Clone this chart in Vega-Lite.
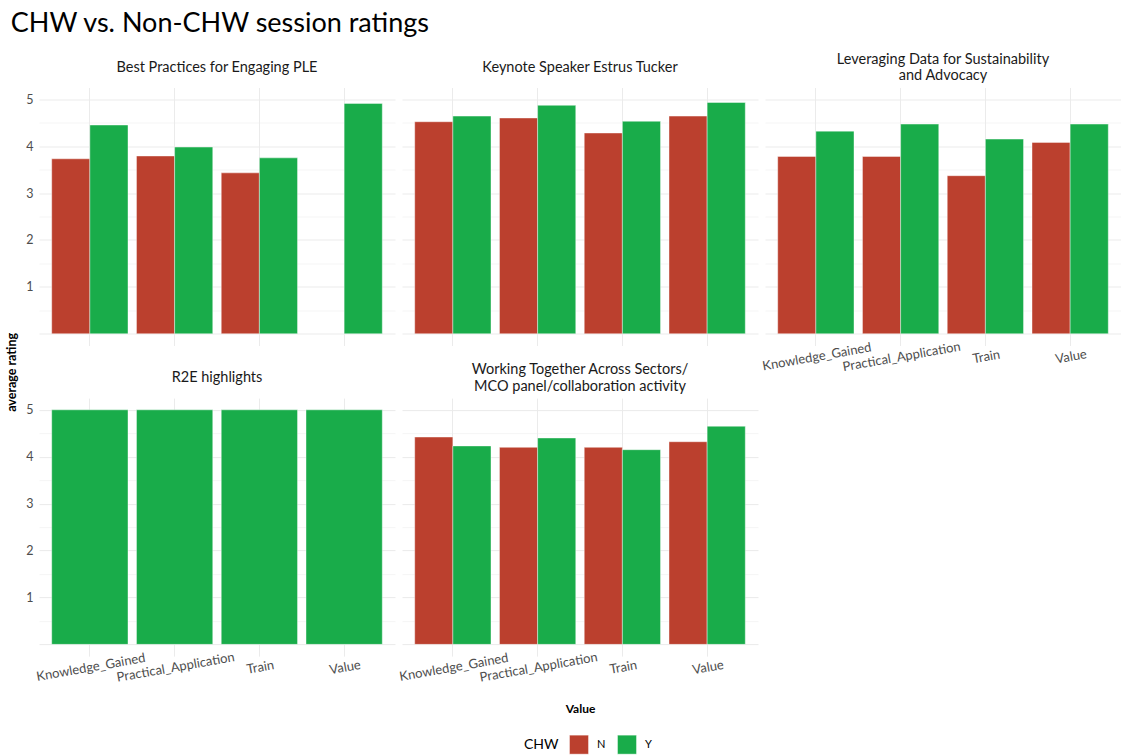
{
  "$schema": "https://vega.github.io/schema/vega-lite/v6.json",
  "title": {"text": "CHW vs. Non-CHW session ratings", "anchor": "start", "frame": "bounds", "fontSize": 27, "font": "Lato", "fontWeight": "normal", "color": "#000000", "offset": 14, "dx": 5, "dy": 0},
  "padding": {"left": 5, "top": 9.5, "right": 0, "bottom": 0},
  "bounds": "flush",
  "columns": 3,
  "spacing": {"row": 52.6, "column": 7},
  "resolve": {"scale": {"xOffset": "independent"}},
  "config": {
    "view": {"stroke": null},
    "font": "Lato",
    "title": {"fontSize": 14.5, "fontWeight": "normal", "color": "#1a1a1a", "offset": 4, "font": "Lato", "frame": "group"},
    "bar": {"stroke": "#ffffff", "strokeWidth": 0.6, "strokeOpacity": 0.7},
    "axis": {"ticks": false, "domain": false, "gridColor": "#ebebeb", "labelColor": "#4d4d4d", "labelFontSize": 12.5, "titleFontWeight": "bold", "titleFontSize": 12, "titleColor": "#000000"},
    "axisX": {"labelAngle": -10, "labelAlign": "center", "labelBaseline": "top", "labelPadding": 5, "bandPosition": 0.5, "grid": true, "gridWidth": 1, "labelFontSize": 13},
    "axisY": {"labelPadding": 6}
  },
  "data": {"values": [
    {"session": "Best Practices", "Value": "Knowledge_Gained", "CHW": "N", "rating": 3.73},
    {"session": "Best Practices", "Value": "Knowledge_Gained", "CHW": "Y", "rating": 4.45},
    {"session": "Best Practices", "Value": "Practical_Application", "CHW": "N", "rating": 3.79},
    {"session": "Best Practices", "Value": "Practical_Application", "CHW": "Y", "rating": 3.98},
    {"session": "Best Practices", "Value": "Train", "CHW": "N", "rating": 3.43},
    {"session": "Best Practices", "Value": "Train", "CHW": "Y", "rating": 3.75},
    {"session": "Best Practices", "Value": "Value", "CHW": "Y", "rating": 4.91},
    {"session": "Keynote", "Value": "Knowledge_Gained", "CHW": "N", "rating": 4.52},
    {"session": "Keynote", "Value": "Knowledge_Gained", "CHW": "Y", "rating": 4.64},
    {"session": "Keynote", "Value": "Practical_Application", "CHW": "N", "rating": 4.6},
    {"session": "Keynote", "Value": "Practical_Application", "CHW": "Y", "rating": 4.87},
    {"session": "Keynote", "Value": "Train", "CHW": "N", "rating": 4.28},
    {"session": "Keynote", "Value": "Train", "CHW": "Y", "rating": 4.53},
    {"session": "Keynote", "Value": "Value", "CHW": "N", "rating": 4.64},
    {"session": "Keynote", "Value": "Value", "CHW": "Y", "rating": 4.93},
    {"session": "Leveraging", "Value": "Knowledge_Gained", "CHW": "N", "rating": 3.78},
    {"session": "Leveraging", "Value": "Knowledge_Gained", "CHW": "Y", "rating": 4.32},
    {"session": "Leveraging", "Value": "Practical_Application", "CHW": "N", "rating": 3.78},
    {"session": "Leveraging", "Value": "Practical_Application", "CHW": "Y", "rating": 4.47},
    {"session": "Leveraging", "Value": "Train", "CHW": "N", "rating": 3.37},
    {"session": "Leveraging", "Value": "Train", "CHW": "Y", "rating": 4.15},
    {"session": "Leveraging", "Value": "Value", "CHW": "N", "rating": 4.08},
    {"session": "Leveraging", "Value": "Value", "CHW": "Y", "rating": 4.47},
    {"session": "R2E", "Value": "Knowledge_Gained", "CHW": "Y", "rating": 5},
    {"session": "R2E", "Value": "Practical_Application", "CHW": "Y", "rating": 5},
    {"session": "R2E", "Value": "Train", "CHW": "Y", "rating": 5},
    {"session": "R2E", "Value": "Value", "CHW": "Y", "rating": 5},
    {"session": "Working Together", "Value": "Knowledge_Gained", "CHW": "N", "rating": 4.42},
    {"session": "Working Together", "Value": "Knowledge_Gained", "CHW": "Y", "rating": 4.23},
    {"session": "Working Together", "Value": "Practical_Application", "CHW": "N", "rating": 4.2},
    {"session": "Working Together", "Value": "Practical_Application", "CHW": "Y", "rating": 4.4},
    {"session": "Working Together", "Value": "Train", "CHW": "N", "rating": 4.2},
    {"session": "Working Together", "Value": "Train", "CHW": "Y", "rating": 4.15},
    {"session": "Working Together", "Value": "Value", "CHW": "N", "rating": 4.32},
    {"session": "Working Together", "Value": "Value", "CHW": "Y", "rating": 4.65}
  ]},
  "concat": [
    {
      "title": {"text": "Best Practices for Engaging PLE", "dy": -8.5},
      "transform": [{"filter": "datum.session === 'Best Practices'"}],
      "width": 356, "height": 258,
      "mark": "bar",
      "encoding": {
        "x": {"field": "Value", "type": "nominal", "scale": {"paddingInner": 0.1, "paddingOuter": 0.15}, "axis": {"labels": false, "title": null}},
        "xOffset": {"field": "CHW", "type": "nominal", "scale": {"paddingInner": 0, "paddingOuter": 0}},
        "y": {"field": "rating", "type": "quantitative", "scale": {"domain": [-0.25, 5.25], "nice": false, "zero": false},
          "axis": {"title": "average rating", "titleY": 284.4, "titleFontSize": 12.5, "titlePadding": 7, "values": [0, 0.5, 1, 1.5, 2, 2.5, 3, 3.5, 4, 4.5, 5], "labelExpr": "datum.value >= 1 && datum.value % 1 === 0 ? '' + datum.value : ''", "gridWidth": {"condition": {"test": "datum.value % 1 !== 0", "value": 0.5}, "value": 1}}},
        "color": {"field": "CHW", "type": "nominal", "title": "CHW", "scale": {"domain": ["N", "Y"], "range": ["#bb402e", "#19ac4a"]},
          "legend": {"orient": "none", "legendX": 485, "legendY": 647, "direction": "horizontal", "titleOrient": "left", "symbolType": "square", "symbolSize": 361, "symbolStrokeWidth": 0, "titleFontSize": 14, "titleFontWeight": "normal", "titleColor": "#000000", "labelFontSize": 11, "labelColor": "#000000", "titlePadding": 10, "columnPadding": 10, "labelOffset": 8}}
      }
    },
    {
      "title": {"text": "Keynote Speaker Estrus Tucker", "dy": -8.5},
      "transform": [{"filter": "datum.session === 'Keynote'"}],
      "width": 356, "height": 258,
      "mark": "bar",
      "encoding": {
        "x": {"field": "Value", "type": "nominal", "scale": {"paddingInner": 0.1, "paddingOuter": 0.15}, "axis": {"labels": false, "title": null}},
        "xOffset": {"field": "CHW", "type": "nominal", "scale": {"paddingInner": 0, "paddingOuter": 0}},
        "y": {"field": "rating", "type": "quantitative", "scale": {"domain": [-0.25, 5.25], "nice": false, "zero": false},
          "axis": {"title": null, "labels": false, "values": [0, 0.5, 1, 1.5, 2, 2.5, 3, 3.5, 4, 4.5, 5], "gridWidth": {"condition": {"test": "datum.value % 1 !== 0", "value": 0.5}, "value": 1}}},
        "color": {"field": "CHW", "type": "nominal", "scale": {"domain": ["N", "Y"], "range": ["#bb402e", "#19ac4a"]}}
      }
    },
    {
      "title": {"text": ["Leveraging Data for Sustainability", "and Advocacy"]},
      "transform": [{"filter": "datum.session === 'Leveraging'"}],
      "width": 356, "height": 258,
      "mark": "bar",
      "encoding": {
        "x": {"field": "Value", "type": "nominal", "scale": {"paddingInner": 0.1, "paddingOuter": 0.15}, "axis": {"title": null}},
        "xOffset": {"field": "CHW", "type": "nominal", "scale": {"paddingInner": 0, "paddingOuter": 0}},
        "y": {"field": "rating", "type": "quantitative", "scale": {"domain": [-0.25, 5.25], "nice": false, "zero": false},
          "axis": {"title": null, "labels": false, "values": [0, 0.5, 1, 1.5, 2, 2.5, 3, 3.5, 4, 4.5, 5], "gridWidth": {"condition": {"test": "datum.value % 1 !== 0", "value": 0.5}, "value": 1}}},
        "color": {"field": "CHW", "type": "nominal", "scale": {"domain": ["N", "Y"], "range": ["#bb402e", "#19ac4a"]}}
      }
    },
    {
      "title": {"text": "R2E highlights", "dy": -8.5},
      "transform": [{"filter": "datum.session === 'R2E'"}],
      "width": 356, "height": 258,
      "mark": "bar",
      "encoding": {
        "x": {"field": "Value", "type": "nominal", "scale": {"paddingInner": 0.1, "paddingOuter": 0.15}, "axis": {"title": null}},
        "xOffset": {"field": "CHW", "type": "nominal", "scale": {"paddingInner": 0, "paddingOuter": 0}},
        "y": {"field": "rating", "type": "quantitative", "scale": {"domain": [-0.25, 5.25], "nice": false, "zero": false},
          "axis": {"title": null, "values": [0, 0.5, 1, 1.5, 2, 2.5, 3, 3.5, 4, 4.5, 5], "labelExpr": "datum.value >= 1 && datum.value % 1 === 0 ? '' + datum.value : ''", "gridWidth": {"condition": {"test": "datum.value % 1 !== 0", "value": 0.5}, "value": 1}}},
        "color": {"field": "CHW", "type": "nominal", "scale": {"domain": ["N", "Y"], "range": ["#bb402e", "#19ac4a"]}}
      }
    },
    {
      "title": {"text": ["Working Together Across Sectors/", "MCO panel/collaboration activity"]},
      "transform": [{"filter": "datum.session === 'Working Together'"}],
      "width": 356, "height": 258,
      "mark": "bar",
      "encoding": {
        "x": {"field": "Value", "type": "nominal", "scale": {"paddingInner": 0.1, "paddingOuter": 0.15}, "axis": {"title": "Value", "titlePadding": 19}},
        "xOffset": {"field": "CHW", "type": "nominal", "scale": {"paddingInner": 0, "paddingOuter": 0}},
        "y": {"field": "rating", "type": "quantitative", "scale": {"domain": [-0.25, 5.25], "nice": false, "zero": false},
          "axis": {"title": null, "labels": false, "values": [0, 0.5, 1, 1.5, 2, 2.5, 3, 3.5, 4, 4.5, 5], "gridWidth": {"condition": {"test": "datum.value % 1 !== 0", "value": 0.5}, "value": 1}}},
        "color": {"field": "CHW", "type": "nominal", "scale": {"domain": ["N", "Y"], "range": ["#bb402e", "#19ac4a"]}}
      }
    }
  ]
}
